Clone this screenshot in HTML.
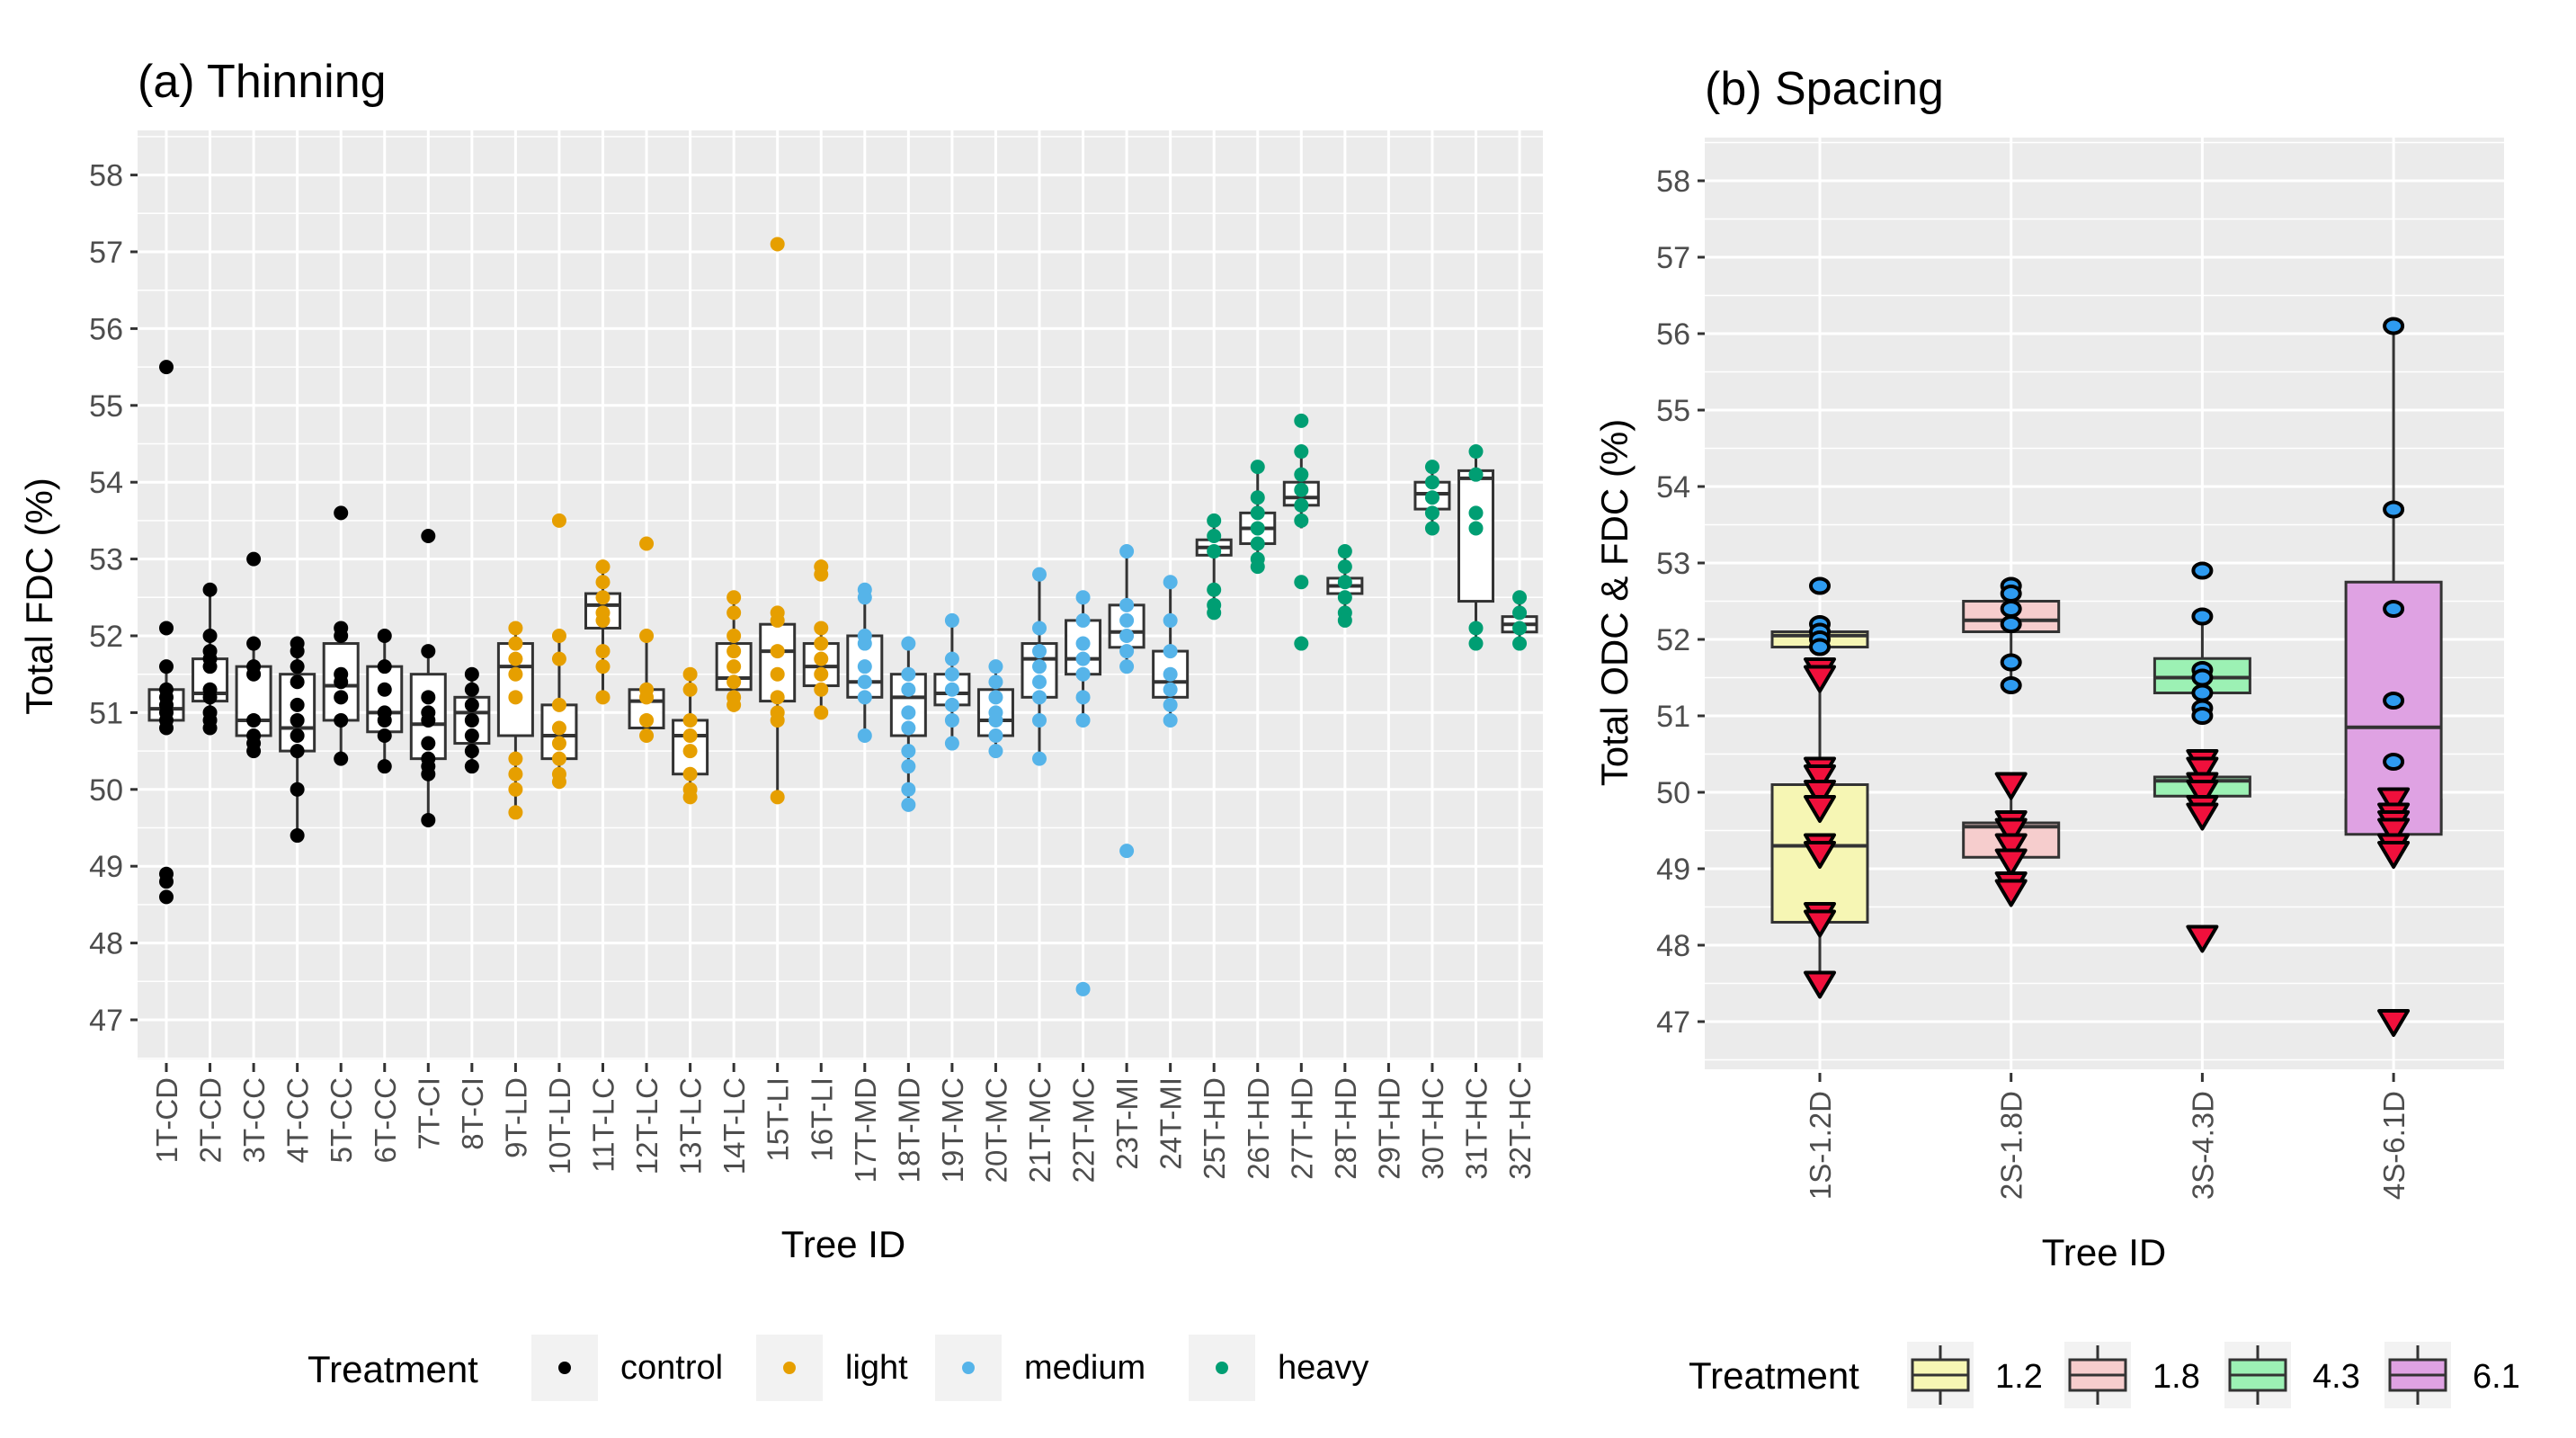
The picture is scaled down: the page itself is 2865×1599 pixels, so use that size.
<!DOCTYPE html>
<html><head><meta charset="utf-8">
<style>
html,body{margin:0;padding:0;background:#fff;}
svg{display:block;font-family:"Liberation Sans",Arial,sans-serif;}
</style></head>
<body>
<svg id="chart" width="2865" height="1599" viewBox="0 0 2865 1599" xmlns="http://www.w3.org/2000/svg"></svg>
<script>
// ---------- Panel (a) data ----------
const catsA = ["1T-CD","2T-CD","3T-CC","4T-CC","5T-CC","6T-CC","7T-CI","8T-CI","9T-LD","10T-LD","11T-LC","12T-LC","13T-LC","14T-LC","15T-LI","16T-LI","17T-MD","18T-MD","19T-MC","20T-MC","21T-MC","22T-MC","23T-MI","24T-MI","25T-HD","26T-HD","27T-HD","28T-HD","29T-HD","30T-HC","31T-HC","32T-HC"];
const groupA = ["control","control","control","control","control","control","control","control","light","light","light","light","light","light","light","light","medium","medium","medium","medium","medium","medium","medium","medium","heavy","heavy","heavy","heavy","heavy","heavy","heavy","heavy"];
const whiskLoA = [50.8,50.8,50.5,49.4,50.4,50.3,49.6,50.3,49.7,50.1,51.2,50.7,49.9,51.1,49.9,51.0,50.7,49.8,50.6,50.5,50.4,50.9,51.6,50.9,52.3,52.9,53.4,52.2,null,53.4,51.9,51.9];
const q1A = [50.9,51.15,50.7,50.5,50.9,50.75,50.4,50.6,50.7,50.4,52.1,50.8,50.2,51.3,51.15,51.35,51.2,50.7,51.1,50.7,51.2,51.5,51.85,51.2,53.05,53.2,53.7,52.55,null,53.65,52.45,52.05];
const medA = [51.05,51.25,50.9,50.8,51.35,51.0,50.85,51.0,51.6,50.7,52.4,51.15,50.7,51.45,51.8,51.6,51.4,51.2,51.25,50.9,51.7,51.7,52.05,51.4,53.15,53.4,53.8,52.65,null,53.85,54.05,52.15];
const q3A = [51.3,51.7,51.6,51.5,51.9,51.6,51.5,51.2,51.9,51.1,52.55,51.3,50.9,51.9,52.15,51.9,52.0,51.5,51.5,51.3,51.9,52.2,52.4,51.8,53.25,53.6,54.0,52.75,null,54.0,54.15,52.25];
const whiskHiA = [51.6,52.6,51.9,51.9,52.1,52.0,51.8,51.5,52.1,52.0,52.9,52.0,51.5,52.5,52.3,52.1,52.6,51.9,52.2,51.6,52.8,52.5,53.1,52.7,53.5,54.2,54.4,53.1,null,54.2,54.4,52.5];
const pointsA = [
 [55.5,52.1,51.6,51.3,51.2,51.1,51.0,50.9,50.8,48.9,48.8,48.6],
 [52.6,52.0,51.8,51.7,51.6,51.3,51.2,51.0,50.9,50.8],
 [53.0,51.9,51.6,51.5,50.9,50.7,50.6,50.5],
 [51.9,51.8,51.6,51.4,51.1,50.9,50.7,50.5,50.0,49.4],
 [53.6,52.1,52.0,51.5,51.4,51.2,50.9,50.4],
 [52.0,51.6,51.3,51.0,50.9,50.7,50.3],
 [53.3,51.8,51.2,51.0,50.9,50.6,50.4,50.3,50.2,49.6],
 [51.5,51.3,51.1,50.9,50.7,50.5,50.3],
 [52.1,51.9,51.7,51.5,51.2,50.4,50.2,50.0,49.7],
 [53.5,52.0,51.7,51.1,50.8,50.6,50.4,50.2,50.1],
 [52.9,52.7,52.5,52.3,52.2,51.8,51.6,51.2],
 [53.2,52.0,51.3,51.2,50.9,50.7],
 [51.5,51.3,50.9,50.7,50.5,50.2,50.0,49.9],
 [52.5,52.3,52.0,51.8,51.6,51.4,51.2,51.1],
 [57.1,52.3,52.2,51.8,51.5,51.2,51.0,50.9,49.9],
 [52.9,52.8,52.1,51.9,51.7,51.5,51.3,51.0],
 [52.6,52.5,52.0,51.9,51.6,51.4,51.2,50.7],
 [51.9,51.5,51.3,51.0,50.8,50.5,50.3,50.0,49.8],
 [52.2,51.7,51.5,51.3,51.1,50.9,50.6],
 [51.6,51.4,51.2,51.0,50.9,50.7,50.5],
 [52.8,52.1,51.8,51.6,51.4,51.2,50.9,50.4],
 [52.5,52.2,51.9,51.7,51.5,51.2,50.9,47.4],
 [53.1,52.4,52.2,52.0,51.8,51.6,49.2],
 [52.7,52.2,51.8,51.5,51.3,51.1,50.9],
 [53.5,53.3,53.1,52.6,52.4,52.3],
 [54.2,53.8,53.6,53.4,53.2,53.0,52.9],
 [54.8,54.4,54.1,53.9,53.7,53.5,52.7,51.9],
 [53.1,52.9,52.7,52.5,52.3,52.2],
 [],
 [54.2,54.0,53.8,53.6,53.4],
 [54.4,54.1,53.6,53.4,52.1,51.9],
 [52.5,52.3,52.1,51.9]
];
const yTicks = [47,48,49,50,51,52,53,54,55,56,57,58];
const legendA = ["control","light","medium","heavy"];

// ---------- Panel (b) data ----------
const catsB = ["1S-1.2D","2S-1.8D","3S-4.3D","4S-6.1D"];
const treatB = ["1.2","1.8","4.3","6.1"];
const odcLo = [51.9,51.4,51.0,49.45];
const odcQ1 = [51.9,52.1,51.3,49.45];
const odcMed = [52.05,52.25,51.5,50.85];
const odcQ3 = [52.1,52.5,51.75,52.75];
const odcHi = [52.2,52.7,52.3,56.1];
const odcPts = [[52.7,52.2,52.1,52.0,51.9],[52.7,52.6,52.4,52.2,51.7,51.4],[52.9,52.3,51.6,51.5,51.3,51.1,51.0],[56.1,53.7,52.4,51.2,50.4]];
const fdcLo = [47.5,48.7,49.7,49.2];
const fdcQ1 = [48.3,49.15,49.95,49.5];
const fdcMed = [49.3,49.55,50.15,49.7];
const fdcQ3 = [50.1,49.6,50.2,49.9];
const fdcHi = [51.6,50.1,50.4,49.9];
const fdcPts = [[51.6,51.5,50.3,50.2,50.0,49.8,49.3,49.2,48.4,48.3,47.5],[50.1,49.6,49.5,49.3,49.1,48.8,48.7],[50.4,50.3,50.1,50.0,49.8,49.7,48.1],[49.9,49.7,49.6,49.5,49.3,49.2,47.0]];

const NS = "http://www.w3.org/2000/svg";
const svg = document.getElementById("chart");
function el(tag, attrs, parent, text) {
  const e = document.createElementNS(NS, tag);
  for (const k in attrs) e.setAttribute(k, attrs[k]);
  if (text !== undefined) e.textContent = text;
  (parent || svg).appendChild(e);
  return e;
}
const colA = {control:"#000000", light:"#E69F00", medium:"#56B4E9", heavy:"#009E73"};
const fillB = ["#F6F6B4","#F6CDCD","#9CF1B4","#DFA2E3"];

// ---------- Panel (a) ----------
const A = {l:153, r:1716, t:145, b:1178};
const yA = v => 1134 - (v - 47) * 85.4;
const xA = i => 185 + i * 48.55;
const gA = el("g", {});


let bgA = el("rect", {x:A.l, y:A.t, width:A.r-A.l, height:A.b-A.t, fill:"#EBEBEB"}, gA);


for (let v = 46.5; v <= 58.5; v += 0.5) {
  const y = yA(v);
  if (y < A.t || y > A.b) continue;
  const major = Math.abs(v - Math.round(v)) < 0.01;
  el("line", {x1:A.l, x2:A.r, y1:y, y2:y, stroke:"#fff", "stroke-width": major ? 3 : 1.5}, gA);
}
catsA.forEach((c, i) => {
  const x = xA(i);
  el("line", {x1:x, x2:x, y1:A.t, y2:A.b, stroke:"#fff", "stroke-width":3}, gA);
});
yTicks.forEach(t => {
  const y = yA(t);
  el("line", {x1:A.l-8, x2:A.l, y1:y, y2:y, stroke:"#333", "stroke-width":3}, gA);
  const tx = el("text", {x:A.l-16, y:y+12, "text-anchor":"end", "font-size":34, fill:"#4D4D4D"}, gA, String(t));
  
  
});
catsA.forEach((c, i) => {
  const x = xA(i);
  const col = colA[groupA[i]];
  const g = el("g", {}, gA);
  
  
  if (medA[i] !== null) {
    const hw = 19;
    el("line", {x1:x, x2:x, y1:yA(whiskHiA[i]), y2:yA(q3A[i]), stroke:"#333", "stroke-width":3}, g);
    el("line", {x1:x, x2:x, y1:yA(q1A[i]), y2:yA(whiskLoA[i]), stroke:"#333", "stroke-width":3}, g);
    el("rect", {x:x-hw, y:yA(q3A[i]), width:2*hw, height:yA(q1A[i])-yA(q3A[i]), fill:"#fff", stroke:"#333", "stroke-width":3}, g);
    el("line", {x1:x-hw, x2:x+hw, y1:yA(medA[i]), y2:yA(medA[i]), stroke:"#333", "stroke-width":4}, g);
  }
  pointsA[i].forEach(v => {
    const p = el("circle", {cx:x, cy:yA(v), r:8, fill:col}, g);
    
    
  });
  el("line", {x1:x, x2:x, y1:A.b+4, y2:A.b+14, stroke:"#333", "stroke-width":3}, gA);
  const lt = el("text", {transform:`translate(${x+12},${A.b+20}) rotate(-90)`, "text-anchor":"end", "font-size":33, fill:"#4D4D4D"}, gA, c);
  
  
});
let t1 = el("text", {x:153, y:108, "font-size":52, fill:"#000"}, gA, "(a) Thinning");


let yt1 = el("text", {transform:"translate(58,663) rotate(-90)", "text-anchor":"middle", "font-size":42, fill:"#000"}, gA, "Total FDC (%)");


let xt1 = el("text", {x:938, y:1398, "text-anchor":"middle", "font-size":42, fill:"#000"}, gA, "Tree ID");


const legA = el("g", {}, gA);


el("text", {x:342, y:1537, "font-size":42, fill:"#000"}, legA, "Treatment");
const keyXA = [591,841,1040,1322];
legendA.forEach((n, k) => {
  const g = el("g", {}, legA);
  
  
  el("rect", {x:keyXA[k], y:1484, width:74, height:74, fill:"#F2F2F2"}, g);
  el("circle", {cx:keyXA[k]+37, cy:1521, r:7, fill:colA[n]}, g);
  el("text", {x:keyXA[k]+99, y:1533, "font-size":38, fill:"#000"}, g, n);
});

// ---------- Panel (b) ----------
const B = {l:1896, r:2785, t:153, b:1189};
const yB = v => 1136 - (v - 47) * 85;
const xB = i => 2024 + i * 212.7;
const gB = el("g", {});


let bgB = el("rect", {x:B.l, y:B.t, width:B.r-B.l, height:B.b-B.t, fill:"#EBEBEB"}, gB);


for (let v = 46.5; v <= 58.5; v += 0.5) {
  const y = yB(v);
  if (y < B.t || y > B.b) continue;
  const major = Math.abs(v - Math.round(v)) < 0.01;
  el("line", {x1:B.l, x2:B.r, y1:y, y2:y, stroke:"#fff", "stroke-width": major ? 3 : 1.5}, gB);
}
catsB.forEach((c, i) => {
  el("line", {x1:xB(i), x2:xB(i), y1:B.t, y2:B.b, stroke:"#fff", "stroke-width":3}, gB);
});
yTicks.forEach(t => {
  const y = yB(t);
  el("line", {x1:B.l-8, x2:B.l, y1:y, y2:y, stroke:"#333", "stroke-width":3}, gB);
  const tx = el("text", {x:B.l-16, y:y+12, "text-anchor":"end", "font-size":34, fill:"#4D4D4D"}, gB, String(t));
  
  
});
function drawBox(g, x, lo, q1, md, q3, hi, fill) {
  const hw = 53;
  el("line", {x1:x, x2:x, y1:yB(hi), y2:yB(q3), stroke:"#333", "stroke-width":3}, g);
  el("line", {x1:x, x2:x, y1:yB(q1), y2:yB(lo), stroke:"#333", "stroke-width":3}, g);
  el("rect", {x:x-hw, y:yB(q3), width:2*hw, height:Math.max(yB(q1)-yB(q3),2), fill:fill, stroke:"#333", "stroke-width":3}, g);
  el("line", {x1:x-hw, x2:x+hw, y1:yB(md), y2:yB(md), stroke:"#333", "stroke-width":4}, g);
}
catsB.forEach((c, i) => {
  const x = xB(i);
  const g = el("g", {}, gB);
  
  
  drawBox(g, x, fdcLo[i], fdcQ1[i], fdcMed[i], fdcQ3[i], fdcHi[i], fillB[i]);
  drawBox(g, x, odcLo[i], odcQ1[i], odcMed[i], odcQ3[i], odcHi[i], fillB[i]);
  odcPts[i].forEach(v => {
    const p = el("ellipse", {cx:x, cy:yB(v), rx:10, ry:8, fill:"#2E9BF0", stroke:"#000", "stroke-width":4}, g);
    
    
  });
  fdcPts[i].forEach(v => {
    const y = yB(v);
    const p = el("polygon", {points:`${x-16},${y-12} ${x+16},${y-12} ${x},${y+15}`, fill:"#F0103C", stroke:"#000", "stroke-width":4, "stroke-linejoin":"round"}, g);
    
    
  });
  el("line", {x1:x, x2:x, y1:B.b+4, y2:B.b+14, stroke:"#333", "stroke-width":3}, gB);
  const lt = el("text", {transform:`translate(${x+12},${B.b+24}) rotate(-90)`, "text-anchor":"end", "font-size":33, fill:"#4D4D4D"}, gB, c);
  
  
});
let t2 = el("text", {x:1896, y:116, "font-size":52, fill:"#000"}, gB, "(b) Spacing");


let yt2 = el("text", {transform:"translate(1810,670) rotate(-90)", "text-anchor":"middle", "font-size":42, fill:"#000"}, gB, "Total ODC & FDC (%)");


let xt2 = el("text", {x:2340, y:1407, "text-anchor":"middle", "font-size":42, fill:"#000"}, gB, "Tree ID");


const legB = el("g", {}, gB);


el("text", {x:1878, y:1544, "font-size":42, fill:"#000"}, legB, "Treatment");
const keyXB = [2121,2296,2474,2652];
treatB.forEach((n, k) => {
  const g = el("g", {}, legB);
  
  
  const kx = keyXB[k];
  el("rect", {x:kx, y:1492, width:74, height:74, fill:"#F2F2F2"}, g);
  el("line", {x1:kx+37, x2:kx+37, y1:1496, y2:1562, stroke:"#333", "stroke-width":3}, g);
  el("rect", {x:kx+6, y:1512, width:62, height:34, fill:fillB[k], stroke:"#333", "stroke-width":3}, g);
  el("line", {x1:kx+6, x2:kx+68, y1:1529, y2:1529, stroke:"#333", "stroke-width":3}, g);
  el("text", {x:kx+98, y:1543, "font-size":38, fill:"#000"}, g, n);
});
</script>
</body></html>
